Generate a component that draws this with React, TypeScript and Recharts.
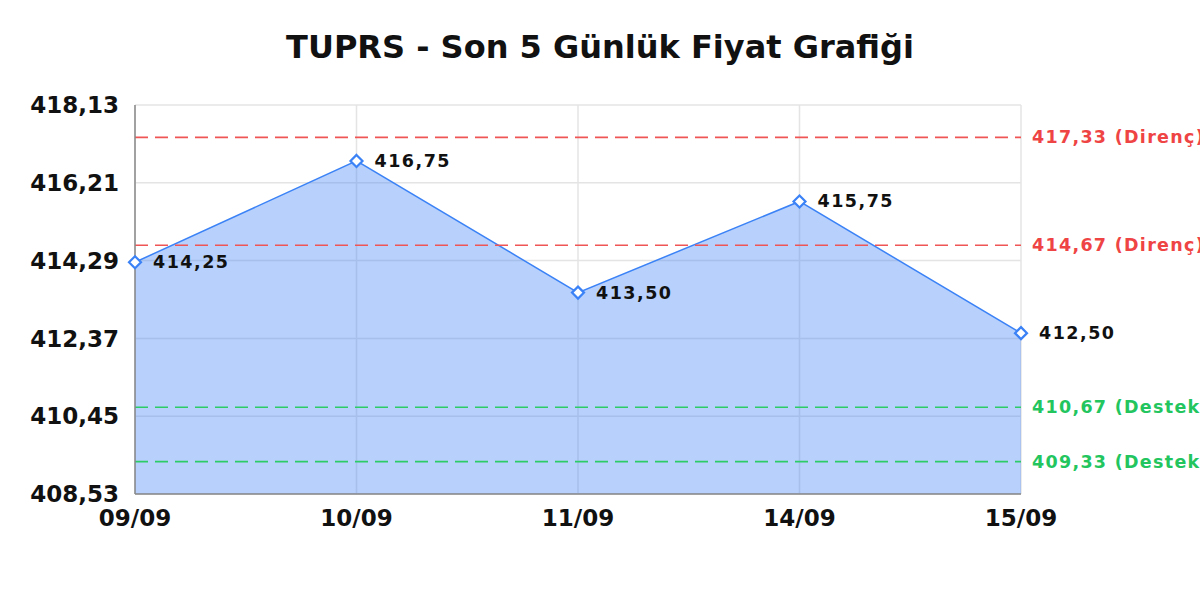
import { AreaChart, Area, XAxis, YAxis, CartesianGrid, ReferenceLine, LabelList } from 'recharts';

const dates = ['09/09', '10/09', '11/09', '14/09', '15/09'];
const prices = [414.25, 416.75, 413.5, 415.75, 412.5];
const yTicks = [408.53, 410.45, 412.37, 414.29, 416.21, 418.13];
const resistance = [417.33, 414.67];
const support = [410.67, 409.33];

const FONT = '"DejaVu Sans", sans-serif';
const BLUE = '#3b82f6';
const RED = '#ef4444';
const GREEN = '#22c55e';

const fmt = (v: number) => v.toFixed(2).replace('.', ',');

const data = dates.map((d, i) => ({ date: d, price: prices[i] }));

function DiamondDot({ cx, cy }: any) {
  if (cx == null || cy == null) return null;
  const r = 6;
  return (
    <polygon
      points={`${cx},${cy - r} ${cx + r},${cy} ${cx},${cy + r} ${cx - r},${cy}`}
      fill="#fff"
      stroke={BLUE}
      strokeWidth={2.2}
    />
  );
}

function PriceLabel({ x, y, value }: any) {
  return (
    <text x={x + 18} y={y} dy={6} fontFamily={FONT} fontWeight="bold" fontSize={17.5} letterSpacing={1.5} fill="#111">
      {fmt(value)}
    </text>
  );
}

function RefLabel({ viewBox, text, color }: any) {
  if (!viewBox) return null;
  return (
    <text x={viewBox.x + viewBox.width + 11} y={viewBox.y} dy={6} fontFamily={FONT} fontWeight="bold" fontSize={17.5} letterSpacing={1.3} fill={color}>
      {text}
    </text>
  );
}

export default function App() {
  return (
    <div style={{ position: 'absolute', left: 0, top: 0, width: 1200, height: 600, background: '#fff' }}>
      <div
        style={{
          position: 'absolute', top: 29, left: 0, width: 1200, textAlign: 'center',
          fontFamily: FONT, fontWeight: 'bold', fontSize: 32, lineHeight: '37px', color: '#111',
        }}
      >
        TUPRS - Son 5 Günlük Fiyat Grafiği
      </div>
      <AreaChart width={1200} height={600} data={data} margin={{ top: 105, right: 179, bottom: 56, left: 25 }}>
        <CartesianGrid stroke="#e4e4e4" strokeWidth={1.5} />
        <XAxis
          dataKey="date"
          height={50}
          tickLine={false}
          tickSize={6}
          tickMargin={10}
          axisLine={{ stroke: '#888', strokeWidth: 1.5 }}
          tick={{ fontFamily: FONT, fontWeight: 'bold', fontSize: 23, fill: '#111' }}
          interval={0}
        />
        <YAxis
          width={110}
          domain={[408.53, 418.13]}
          ticks={yTicks}
          tickFormatter={fmt}
          tickLine={false}
          tickSize={6}
          tickMargin={10}
          axisLine={{ stroke: '#888', strokeWidth: 1.5 }}
          tick={{ fontFamily: FONT, fontWeight: 'bold', fontSize: 23, fill: '#111' }}
          interval={0}
        />
        <Area
          type="linear"
          dataKey="price"
          stroke={BLUE}
          strokeWidth={1.5}
          fill={BLUE}
          fillOpacity={0.37}
          isAnimationActive={false}
          dot={(p: any) => <DiamondDot key={`d-${p.index}`} cx={p.cx} cy={p.cy} />}
          activeDot={false}
        >
          <LabelList dataKey="price" content={<PriceLabel />} />
        </Area>
        {resistance.map((v) => (
          <ReferenceLine
            key={`r-${v}`}
            y={v}
            stroke="#f05555"
            strokeWidth={1.6}
            strokeDasharray="13 7"
            label={<RefLabel text={`${fmt(v)} (Direnç)`} color={RED} />}
          />
        ))}
        {support.map((v) => (
          <ReferenceLine
            key={`s-${v}`}
            y={v}
            stroke="#2ecc66"
            strokeWidth={1.6}
            strokeDasharray="13 7"
            label={<RefLabel text={`${fmt(v)} (Destek)`} color={GREEN} />}
          />
        ))}
      </AreaChart>
    </div>
  );
}
